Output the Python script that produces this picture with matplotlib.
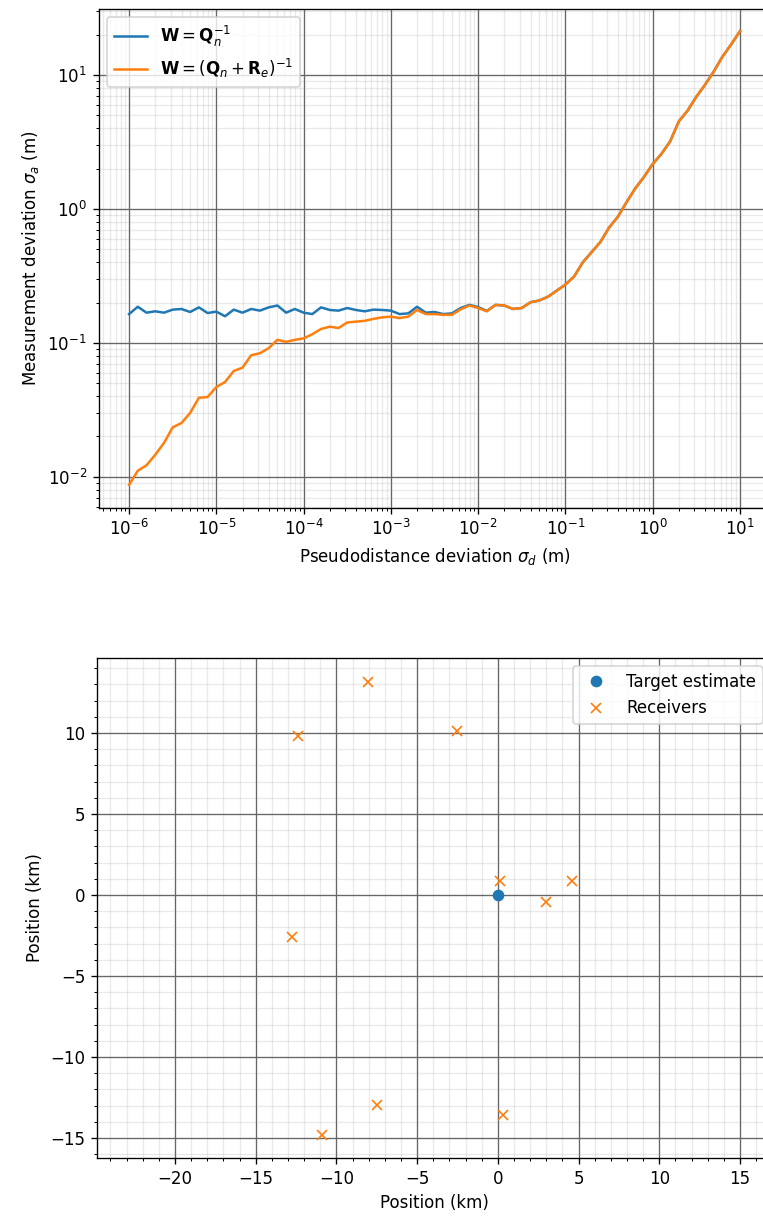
import numpy as np
import matplotlib
matplotlib.use('Agg')
import matplotlib.pyplot as plt

# Pseudodistance deviation grid (m), 10 points per decade
sigma_d = np.logspace(-6, 1, 71)

# Measurement deviation (m) with W = Qn^-1
sigma_a_qn = [0.164, 0.186, 0.168, 0.172, 0.168, 0.177, 0.179, 0.170, 0.184, 0.167,
              0.171, 0.158, 0.177, 0.168, 0.179, 0.174, 0.184, 0.190, 0.168, 0.179,
              0.168, 0.164, 0.184, 0.176, 0.174, 0.182, 0.176, 0.172, 0.177, 0.176,
              0.174, 0.164, 0.166, 0.186, 0.168, 0.170, 0.164, 0.166, 0.182, 0.192,
              0.185, 0.173, 0.192, 0.190, 0.179, 0.182, 0.201, 0.207, 0.221, 0.245,
              0.272, 0.313, 0.400, 0.475, 0.565, 0.724, 0.871, 1.12, 1.42, 1.73,
              2.16, 2.57, 3.19, 4.50, 5.41, 6.87, 8.44, 10.6, 13.7, 16.9, 21.2]

# Measurement deviation (m) with W = (Qn + Re)^-1
sigma_a_qnre = [0.00871, 0.0111, 0.0122, 0.0146, 0.0179, 0.0234, 0.0252, 0.0300, 0.0389, 0.0394,
                0.0468, 0.0510, 0.0617, 0.0653, 0.0809, 0.0837, 0.0913, 0.1053, 0.1017, 0.1053,
                0.108, 0.116, 0.127, 0.132, 0.129, 0.142, 0.144, 0.146, 0.151, 0.155,
                0.157, 0.153, 0.157, 0.176, 0.164, 0.164, 0.162, 0.162, 0.178, 0.190,
                0.182, 0.172, 0.192, 0.190, 0.179, 0.182, 0.201, 0.207, 0.221, 0.245,
                0.272, 0.313, 0.400, 0.475, 0.565, 0.724, 0.871, 1.12, 1.42, 1.73,
                2.16, 2.57, 3.19, 4.50, 5.41, 6.87, 8.44, 10.6, 13.7, 16.9, 21.2]

# Positions (km)
target_x = [0.0]
target_y = [0.0]
receivers_x = [-8.03, -12.39, -2.56, 0.11, 4.62, 2.96, -12.76, -7.48, -10.88, 0.32]
receivers_y = [13.14, 9.84, 10.10, 0.86, 0.86, -0.41, -2.61, -12.94, -14.83, -13.55]

fig = plt.figure(figsize=(763 / 120, 1218 / 120), dpi=120)

# Top: deviation vs pseudodistance deviation
ax1 = fig.add_axes([0.1291, 0.5833, 0.8807, 0.4097])
ax1.loglog(sigma_d, sigma_a_qn, label=r'$\mathbf{W} = \mathbf{Q}_n^{-1}$')
ax1.loglog(sigma_d, sigma_a_qnre, label=r'$\mathbf{W} = (\mathbf{Q}_n + \mathbf{R}_e)^{-1}$')
ax1.grid(which='major', color='#666666', linestyle='-')
ax1.grid(which='minor', color='#999999', linestyle='-', alpha=0.2)
ax1.set_xlabel(r'Pseudodistance deviation $\sigma_d$ (m)')
ax1.set_ylabel(r'Measurement deviation $\sigma_a$ (m)')
ax1.legend(loc='upper left')

# Bottom: geometry
ax2 = fig.add_axes([0.1271, 0.04926, 0.8834, 0.4105])
ax2.plot(target_x, target_y, 'o', label='Target estimate')
ax2.plot(receivers_x, receivers_y, 'x', label='Receivers')
ax2.set_xlim(-24.83, 16.92)
ax2.set_ylim(-16.23, 14.63)
ax2.minorticks_on()
ax2.grid(which='major', color='#666666', linestyle='-')
ax2.grid(which='minor', color='#999999', linestyle='-', alpha=0.2)
ax2.set_xlabel('Position (km)')
ax2.set_ylabel('Position (km)')
ax2.legend(loc='upper right')

fig.savefig('out.png', dpi=120)
